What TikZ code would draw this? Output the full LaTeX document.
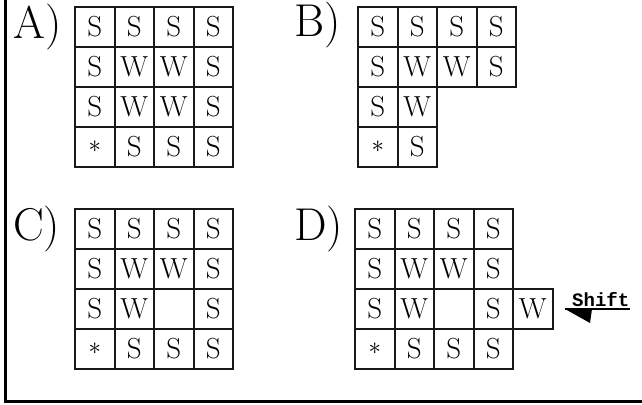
\documentclass[tikz,border=0pt]{standalone}
\usepackage{fontspec}
\newfontfamily\shiftfont{Liberation Mono}
\newcommand{\st}{{\fontsize{24}{24}\selectfont$\ast$}}
\begin{document}
\begin{tikzpicture}[x=1pt,y=-1pt,
  cell/.style={draw=black!90, line width=2pt, minimum size=39.5pt, inner sep=0pt,
    font=\fontsize{29}{29}\selectfont, text=black},
  lab/.style={anchor=base west, inner sep=0pt, font=\fontsize{46}{46}\selectfont},
  frameline/.style={line width=2.2pt}]
\useasboundingbox (0,0) rectangle (642,404);
\draw[frameline] (5.5,0) -- (5.5,401.5) -- (642,401.5);
% labels
\node[lab] (la) at (13,38) {A)};
\node[lab] (lb) at (294,37) {B)};
\node[lab] (lc) at (13,240) {C)};
\node[lab] (ld) at (294,240) {D)};
% grid A
\foreach \r/\c/\t in {1/1/S,1/2/S,1/3/S,1/4/S,2/1/S,2/2/W,2/3/W,2/4/S,3/1/S,3/2/W,3/3/W,3/4/S,4/1/\st,4/2/S,4/3/S,4/4/S}
  \node[cell] (A\r\c) at ({75+(\c-0.5)*39.5},{7+(\r-0.5)*40}) {\t};
% grid B
\foreach \r/\c/\t in {1/1/S,1/2/S,1/3/S,1/4/S,2/1/S,2/2/W,2/3/W,2/4/S,3/1/S,3/2/W,4/1/\st,4/2/S}
  \node[cell] (B\r\c) at ({358+(\c-0.5)*39.5},{7+(\r-0.5)*40}) {\t};
% grid C
\foreach \r/\c/\t in {1/1/S,1/2/S,1/3/S,1/4/S,2/1/S,2/2/W,2/3/W,2/4/S,3/1/S,3/2/W,3/3/\mbox{},3/4/S,4/1/\st,4/2/S,4/3/S,4/4/S}
  \node[cell] (C\r\c) at ({75+(\c-0.5)*39.5},{209+(\r-0.5)*40}) {\t};
% grid D
\foreach \r/\c/\t in {1/1/S,1/2/S,1/3/S,1/4/S,2/1/S,2/2/W,2/3/W,2/4/S,3/1/S,3/2/W,3/3/\mbox{},3/4/S,4/1/\st,4/2/S,4/3/S,4/4/S,3/5/W}
  \node[cell] (D\r\c) at ({355+(\c-0.5)*39.5},{209+(\r-0.5)*40}) {\t};
% shift arrow
\node[anchor=base west, inner sep=0pt, font=\shiftfont\bfseries\fontsize{19}{19}\selectfont] (shift) at (572,306) {Shift};
\coordinate (tip) at (565,309);
\draw[line width=1.3pt] (tip) -- ([xshift=1pt]tip -| shift.east);
\fill (tip) -- ++(27,0) -- ++(-2,14) -- cycle;
\end{tikzpicture}
\end{document}
